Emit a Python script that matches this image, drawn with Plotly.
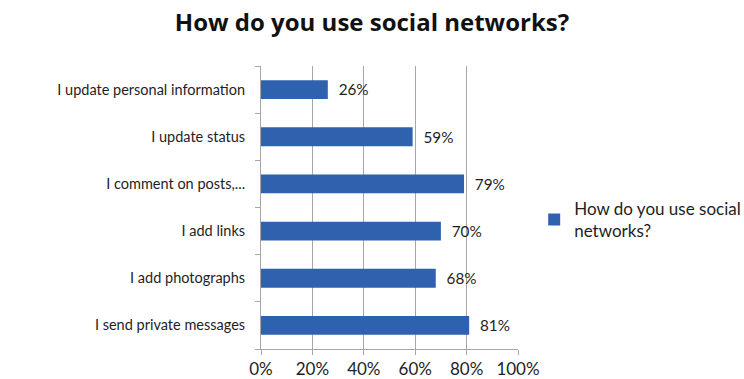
import plotly.graph_objects as go

# Survey answers, listed from top to bottom as shown
activities = [
    "I update personal information",
    "I update status",
    "I comment on posts,...",
    "I add links",
    "I add photographs",
    "I send private messages",
]
shares = [26, 59, 79, 70, 68, 81]
x_ticks = [0, 20, 40, 60, 80, 100]
x_tick_labels = ["0%", "20%", "40%", "60%", "80%", "100%"]
series_name = "How do you use social<br>networks?"
title_text = "How do you use social networks?"

bar_color = "#2F62AE"
grid_color = "#A6A6A6"
text_color = "#1E1E1E"
font_family = "Lato, 'Open Sans', sans-serif"

fig = go.Figure()
fig.add_trace(go.Bar(
    y=activities,
    x=shares,
    orientation="h",
    name=series_name,
    marker=dict(color=bar_color, line=dict(width=0)),
    text=[f"  {v}%" for v in shares],
    textposition="outside",
    textfont=dict(size=17, color=text_color, family=font_family),
    cliponaxis=False,
    showlegend=True,
))

fig.update_layout(
    width=744,
    height=379,
    paper_bgcolor="white",
    plot_bgcolor="white",
    margin=dict(l=261, r=226, t=66, b=30),
    bargap=0.6,
    title=dict(
        text=f"<b>{title_text}</b>",
        x=0.5,
        xref="container",
        xanchor="center",
        y=0.94,
        yanchor="middle",
        font=dict(size=24, color="#111111", family="'Open Sans', sans-serif"),
    ),
    font=dict(family=font_family, size=14, color=text_color),
    legend=dict(
        xref="container",
        yref="container",
        x=0.718,
        y=0.42,
        xanchor="left",
        yanchor="middle",
        itemwidth=30,
        font=dict(size=17, color=text_color, family=font_family),
        bgcolor="rgba(0,0,0,0)",
    ),
    xaxis=dict(
        range=[0, 100],
        tickvals=x_ticks,
        ticktext=x_tick_labels,
        showgrid=True,
        gridcolor=grid_color,
        gridwidth=1,
        zeroline=False,
        showline=True,
        linecolor=grid_color,
        ticks="outside",
        ticklen=5,
        tickcolor=grid_color,
        tickfont=dict(size=17, color=text_color),
        automargin=False,
        fixedrange=True,
    ),
    yaxis=dict(
        categoryorder="array",
        categoryarray=activities[::-1],
        showline=True,
        linecolor=grid_color,
        ticks="outside",
        tickson="boundaries",
        ticklen=5,
        tickcolor=grid_color,
        showgrid=False,
        tickfont=dict(size=14.5, color=text_color),
        ticklabelstandoff=12,
        automargin=False,
        fixedrange=True,
    ),
)

fig.write_html("out.html")
